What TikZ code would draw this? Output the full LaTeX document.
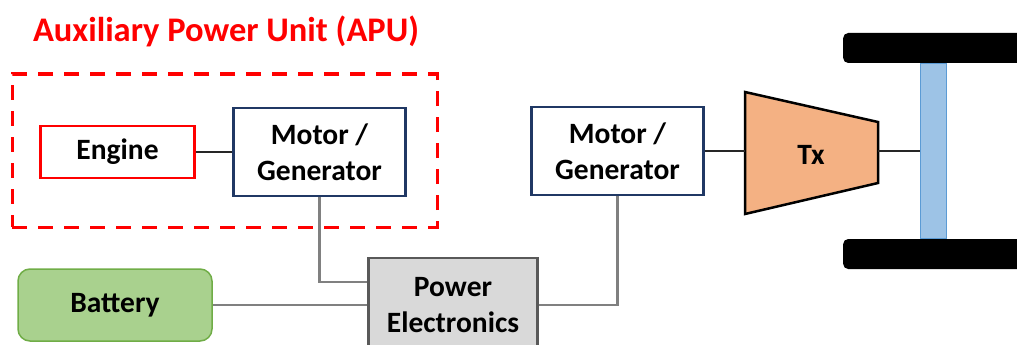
\documentclass[tikz,border=0pt]{standalone}
\usepackage{fontspec}
\setmainfont{Carlito}
\usetikzlibrary{positioning,calc}
\definecolor{apured}{HTML}{FF0000}
\definecolor{mgblue}{HTML}{203864}
\definecolor{batgreen}{HTML}{A9D18E}
\definecolor{batedge}{HTML}{70AD47}
\definecolor{pegray}{HTML}{D9D9D9}
\definecolor{peedge}{HTML}{595959}
\definecolor{txorange}{HTML}{F4B183}
\definecolor{axleblue}{HTML}{9DC3E6}
\definecolor{axleedge}{HTML}{5B9BD5}
\definecolor{wiregray}{HTML}{808080}

\begin{document}
\begin{tikzpicture}[x=1pt,y=-1pt,
block/.style={draw,line width=2.5pt,align=center,inner sep=0pt,
font=\fontsize{29.5}{36}\selectfont\bfseries},
enginebox/.style={block,draw=apured,minimum width=154pt,minimum height=52pt},
motorbox/.style={block,draw=mgblue,fill=white,minimum width=172pt,minimum height=88pt},
pebox/.style={block,draw=peedge,fill=pegray,minimum width=169pt,minimum height=94pt},
batbox/.style={block,draw=batedge,line width=1.5pt,fill=batgreen,rounded corners=12pt,
minimum width=194pt,minimum height=72pt},
apubox/.style={draw=apured,line width=3pt,dash pattern=on 15pt off 11pt,
minimum width=425pt,minimum height=153pt},
wheel/.style={fill=black,rounded corners=5pt,minimum width=200pt,minimum height=30pt,
inner sep=0pt,anchor=west},
wire/.style={line width=2.8pt,draw=black!85},
gwire/.style={line width=2.8pt,draw=wiregray}
]
\useasboundingbox (0,0) rectangle (1017,345);

% APU group
\node[text=apured,font=\fontsize{34.5}{40}\selectfont\bfseries] (apulabel) at (226,31)
{Auxiliary Power Unit (APU)};
\node[apubox] (apu) at (224.5,150.5) {};
\node[enginebox] (engine) at (117.5,152) {Engine};
\node[motorbox] (mg1) at (319.5,152) {Motor /\\Generator};

% electrical side
\node[batbox] (bat) at (115,305) {Battery};
\node[pebox] (pe) at (453,305) {Power\\Electronics};
\node[motorbox] (mg2) at (617.5,151) {Motor /\\Generator};

% transmission
\draw[line width=2.5pt,fill=txorange] (745,92) -- (878,122) -- (878,183) -- (745,214) -- cycle;
\coordinate (txin) at (745,151);
\coordinate (txout) at (878,151);
\node[font=\fontsize{29.5}{36}\selectfont\bfseries] (tx) at (811,155) {Tx};

% axle and wheels
\node[draw=axleedge,line width=1.5pt,fill=axleblue,minimum width=26pt,minimum height=176pt,
inner sep=0pt] (axle) at (933.5,151) {};
\node[wheel] (wheeltop) at (843,48) {};
\node[wheel] (wheelbot) at (843,254) {};

\draw[wire] (engine) -- (mg1);
\draw[wire] (mg2) -- (txin);
\draw[wire] (txout) -- (axle);
\draw[gwire] (mg1.south) |- ([yshift=23pt]pe.west);
\draw[gwire] (bat) -- (pe);
\draw[gwire] (mg2.south) |- (pe.east);
\end{tikzpicture}
\end{document}
